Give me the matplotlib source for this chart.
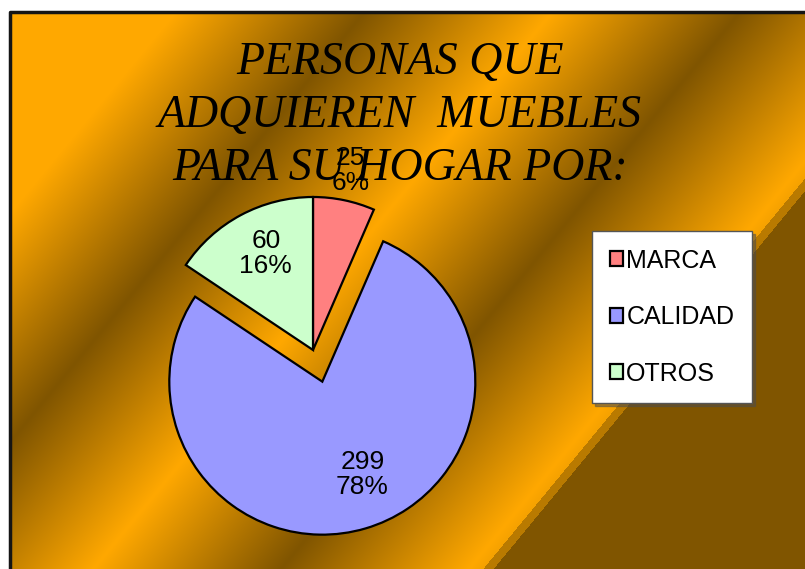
import numpy as np
import matplotlib
matplotlib.use('Agg')
import matplotlib.pyplot as plt
from matplotlib.lines import Line2D

# datos del grafico
categorias = ['MARCA', 'CALIDAD', 'OTROS']
personas = [25, 299, 60]
porcentajes = ['6%', '78%', '16%']
colores = ['#FF8080', '#9999FF', '#CCFFCC']
titulo = ['PERSONAS QUE', 'ADQUIEREN  MUEBLES', 'PARA SU HOGAR POR:']

W, H = 805, 569
fig = plt.figure(figsize=(W / 100, H / 100), dpi=100, facecolor='white')

# fondo: degradado en bandas diagonales (naranja / cafe)
x0, y0 = 10, 12
X, Y = np.meshgrid(np.arange(x0, W) + 0.5, np.arange(y0, H) + 0.5)
u = 0.772 * X + 0.636 * Y
fase = np.clip((u - 144) / 145, 0, None)
t = 1 - np.abs(fase % 2 - 1)
t[u < 144] = 0
t[(u >= 735) & (u < 743)] = 0.55
t[u >= 743] = 1
naranja = np.array([255, 168, 0]) / 255
cafe = np.array([128, 85, 0]) / 255
fondo = naranja * (1 - t[..., None]) + cafe * t[..., None]

bg = fig.add_axes([x0 / W, 0, (W - x0) / W, (H - y0) / H])
bg.imshow(fondo, aspect='auto', interpolation='bilinear')
bg.axis('off')
fig.add_artist(Line2D([x0 / W, x0 / W, 1], [0, (H - y0) / H, (H - y0) / H],
                      color='#151515', lw=2.5, transform=fig.transFigure))

# pastel
ax = fig.add_axes([0, 0, 1, 1])
ax.patch.set_visible(False)
cunas, _ = ax.pie(personas, colors=colores, startangle=90, counterclock=False,
                  center=(313, H - 350), radius=153, explode=[0, 33, 0],
                  wedgeprops=dict(edgecolor='black', linewidth=1.6))
ax.set_xlim(0, W)
ax.set_ylim(0, H)
ax.set_aspect('auto')
ax.axis('off')

# etiquetas valor / porcentaje
distancias = [1.2, 0.66, 0.7]
giros = [0, 7, -2]
for w, n, p, d, g in zip(cunas, personas, porcentajes, distancias, giros):
    ang = np.deg2rad((w.theta1 + w.theta2) / 2 + g)
    cx, cy = w.center
    ax.text(cx + d * w.r * np.cos(ang), cy + d * w.r * np.sin(ang), f'{n}\n{p}',
            ha='center', va='center', fontsize=19, family='Liberation Sans',
            linespacing=1.05)

ax.legend(cunas, categorias, loc='upper left',
          bbox_to_anchor=(592 / W, 1 - 231 / H), bbox_transform=fig.transFigure,
          prop=dict(family='Liberation Sans', size=18), frameon=True,
          fancybox=False, shadow=True, edgecolor='#555555', framealpha=1,
          handlelength=0.55, handleheight=0.55, handletextpad=0.12,
          labelspacing=1.3, borderpad=0.7, borderaxespad=0)

# titulo
for linea, yb in zip(titulo, [74, 127, 180]):
    fig.text(400 / W, 1 - yb / H, linea, ha='center', va='baseline', fontsize=33,
             family='Liberation Serif', style='italic')

fig.savefig('out.png', dpi=100, facecolor='white')
